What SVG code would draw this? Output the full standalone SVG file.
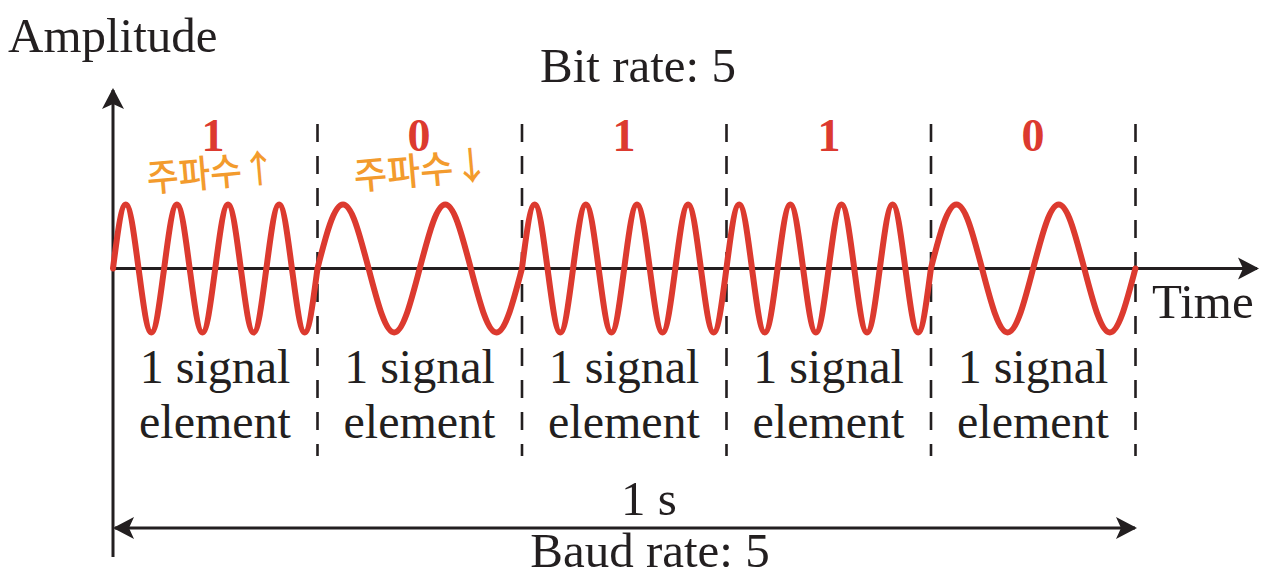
<svg xmlns="http://www.w3.org/2000/svg" width="1280" height="579" viewBox="0 0 1280 579">
<style>
.lbl{font-family:"Liberation Serif","Times New Roman",serif;font-size:49px;fill:#231f20}
.el{font-family:"Liberation Serif","Times New Roman",serif;font-size:48px;fill:#231f20;text-anchor:middle}
.bit{font-family:"Liberation Serif","Times New Roman",serif;font-size:46px;font-weight:bold;fill:#dc3a2f;text-anchor:middle}
.note{font-family:"Noto Sans CJK KR","Noto Sans",sans-serif;fill:#f39b2d;font-size:38px;font-weight:500}
.axis{stroke:#231f20;stroke-width:3;fill:none}
.dash{stroke:#231f20;stroke-width:2.6;stroke-dasharray:18 14;fill:none}
.wave{stroke:#dc3a2f;stroke-width:6;fill:none;stroke-linejoin:round;stroke-linecap:round}
</style>
<defs>
<marker id="ah" viewBox="-22 -13 26 26" refX="0" refY="0" markerWidth="26" markerHeight="26" markerUnits="userSpaceOnUse" orient="auto-start-reverse">
<path d="M2,0 L-19,-11 L-14,0 L-19,11 Z" fill="#231f20"/>
</marker>
</defs>
<g id="dividers">
<line class="dash" x1="317.5" y1="124" x2="317.5" y2="456"/>
<line class="dash" x1="522" y1="124" x2="522" y2="456"/>
<line class="dash" x1="726.5" y1="124" x2="726.5" y2="456"/>
<line class="dash" x1="931" y1="124" x2="931" y2="456"/>
<line class="dash" x1="1135.5" y1="124" x2="1135.5" y2="456"/>
</g>
<g id="connectors">
<line id="amp-axis" class="axis" x1="113" y1="557" x2="113" y2="90" marker-end="url(#ah)"/>
<line id="time-axis" class="axis" x1="113" y1="268.5" x2="1257" y2="268.5" marker-end="url(#ah)"/>
<line id="one-second" class="axis" x1="115" y1="528" x2="1135" y2="528" marker-start="url(#ah)" marker-end="url(#ah)"/>
</g>
<g id="signal">
<path class="wave" d="M113,268.5
c4.17,-32.8 8.15,-64 12.78,-64 s8.61,32.8 12.78,64 s8.15,64 12.78,64 s8.61,-32.8 12.78,-64
s8.15,-64 12.78,-64 s8.61,32.8 12.78,64 s8.15,64 12.78,64 s8.61,-32.8 12.78,-64
s8.15,-64 12.78,-64 s8.61,32.8 12.78,64 s8.15,64 12.78,64 s8.61,-32.8 12.78,-64
s8.15,-64 12.78,-64 s8.61,32.8 12.78,64 s8.15,64 12.78,64 s8.61,-32.8 12.78,-64
c8.34,-32.8 16.31,-64 25.56,-64 s17.22,32.8 25.56,64 s16.31,64 25.56,64 s17.22,-32.8 25.56,-64
s16.31,-64 25.56,-64 s17.22,32.8 25.56,64 s16.31,64 25.56,64 s17.22,-32.8 25.56,-64
c4.17,-32.8 8.15,-64 12.78,-64 s8.61,32.8 12.78,64 s8.15,64 12.78,64 s8.61,-32.8 12.78,-64
s8.15,-64 12.78,-64 s8.61,32.8 12.78,64 s8.15,64 12.78,64 s8.61,-32.8 12.78,-64
s8.15,-64 12.78,-64 s8.61,32.8 12.78,64 s8.15,64 12.78,64 s8.61,-32.8 12.78,-64
s8.15,-64 12.78,-64 s8.61,32.8 12.78,64 s8.15,64 12.78,64 s8.61,-32.8 12.78,-64
c4.17,-32.8 8.15,-64 12.78,-64 s8.61,32.8 12.78,64 s8.15,64 12.78,64 s8.61,-32.8 12.78,-64
s8.15,-64 12.78,-64 s8.61,32.8 12.78,64 s8.15,64 12.78,64 s8.61,-32.8 12.78,-64
s8.15,-64 12.78,-64 s8.61,32.8 12.78,64 s8.15,64 12.78,64 s8.61,-32.8 12.78,-64
s8.15,-64 12.78,-64 s8.61,32.8 12.78,64 s8.15,64 12.78,64 s8.61,-32.8 12.78,-64
c8.34,-32.8 16.31,-64 25.56,-64 s17.22,32.8 25.56,64 s16.31,64 25.56,64 s17.22,-32.8 25.56,-64
s16.31,-64 25.56,-64 s17.22,32.8 25.56,64 s16.31,64 25.56,64 s17.22,-32.8 25.56,-64"/>
</g>
<g id="titles">
<text class="lbl" x="8" y="52">Amplitude</text>
<text class="lbl" x="540" y="82">Bit rate: 5</text>
<text class="lbl" x="1152" y="318">Time</text>
<text class="lbl" x="649" y="515" text-anchor="middle">1 s</text>
<text class="lbl" x="650" y="567" text-anchor="middle">Baud rate: 5</text>
</g>
<g id="bits">
<text class="bit" x="213" y="151">1</text>
<text class="bit" x="419" y="151">0</text>
<text class="bit" x="624" y="151">1</text>
<text class="bit" x="829" y="151">1</text>
<text class="bit" x="1033" y="151">0</text>
</g>
<g id="elements">
<g id="el1"><text class="el" x="215" y="383">1 signal</text><text class="el" x="215" y="438">element</text></g>
<g id="el2"><text class="el" x="419.5" y="383">1 signal</text><text class="el" x="419.5" y="438">element</text></g>
<g id="el3"><text class="el" x="624" y="383">1 signal</text><text class="el" x="624" y="438">element</text></g>
<g id="el4"><text class="el" x="828.5" y="383">1 signal</text><text class="el" x="828.5" y="438">element</text></g>
<g id="el5"><text class="el" x="1033" y="383">1 signal</text><text class="el" x="1033" y="438">element</text></g>
</g>
<g id="notes">
<text class="note" x="148" y="192" textLength="130" lengthAdjust="spacingAndGlyphs" transform="rotate(-5 148 192)">주파수↑</text>
<text class="note" x="355" y="190" textLength="136" lengthAdjust="spacingAndGlyphs" transform="rotate(-5 355 190)">주파수↓</text>
</g>
</svg>
